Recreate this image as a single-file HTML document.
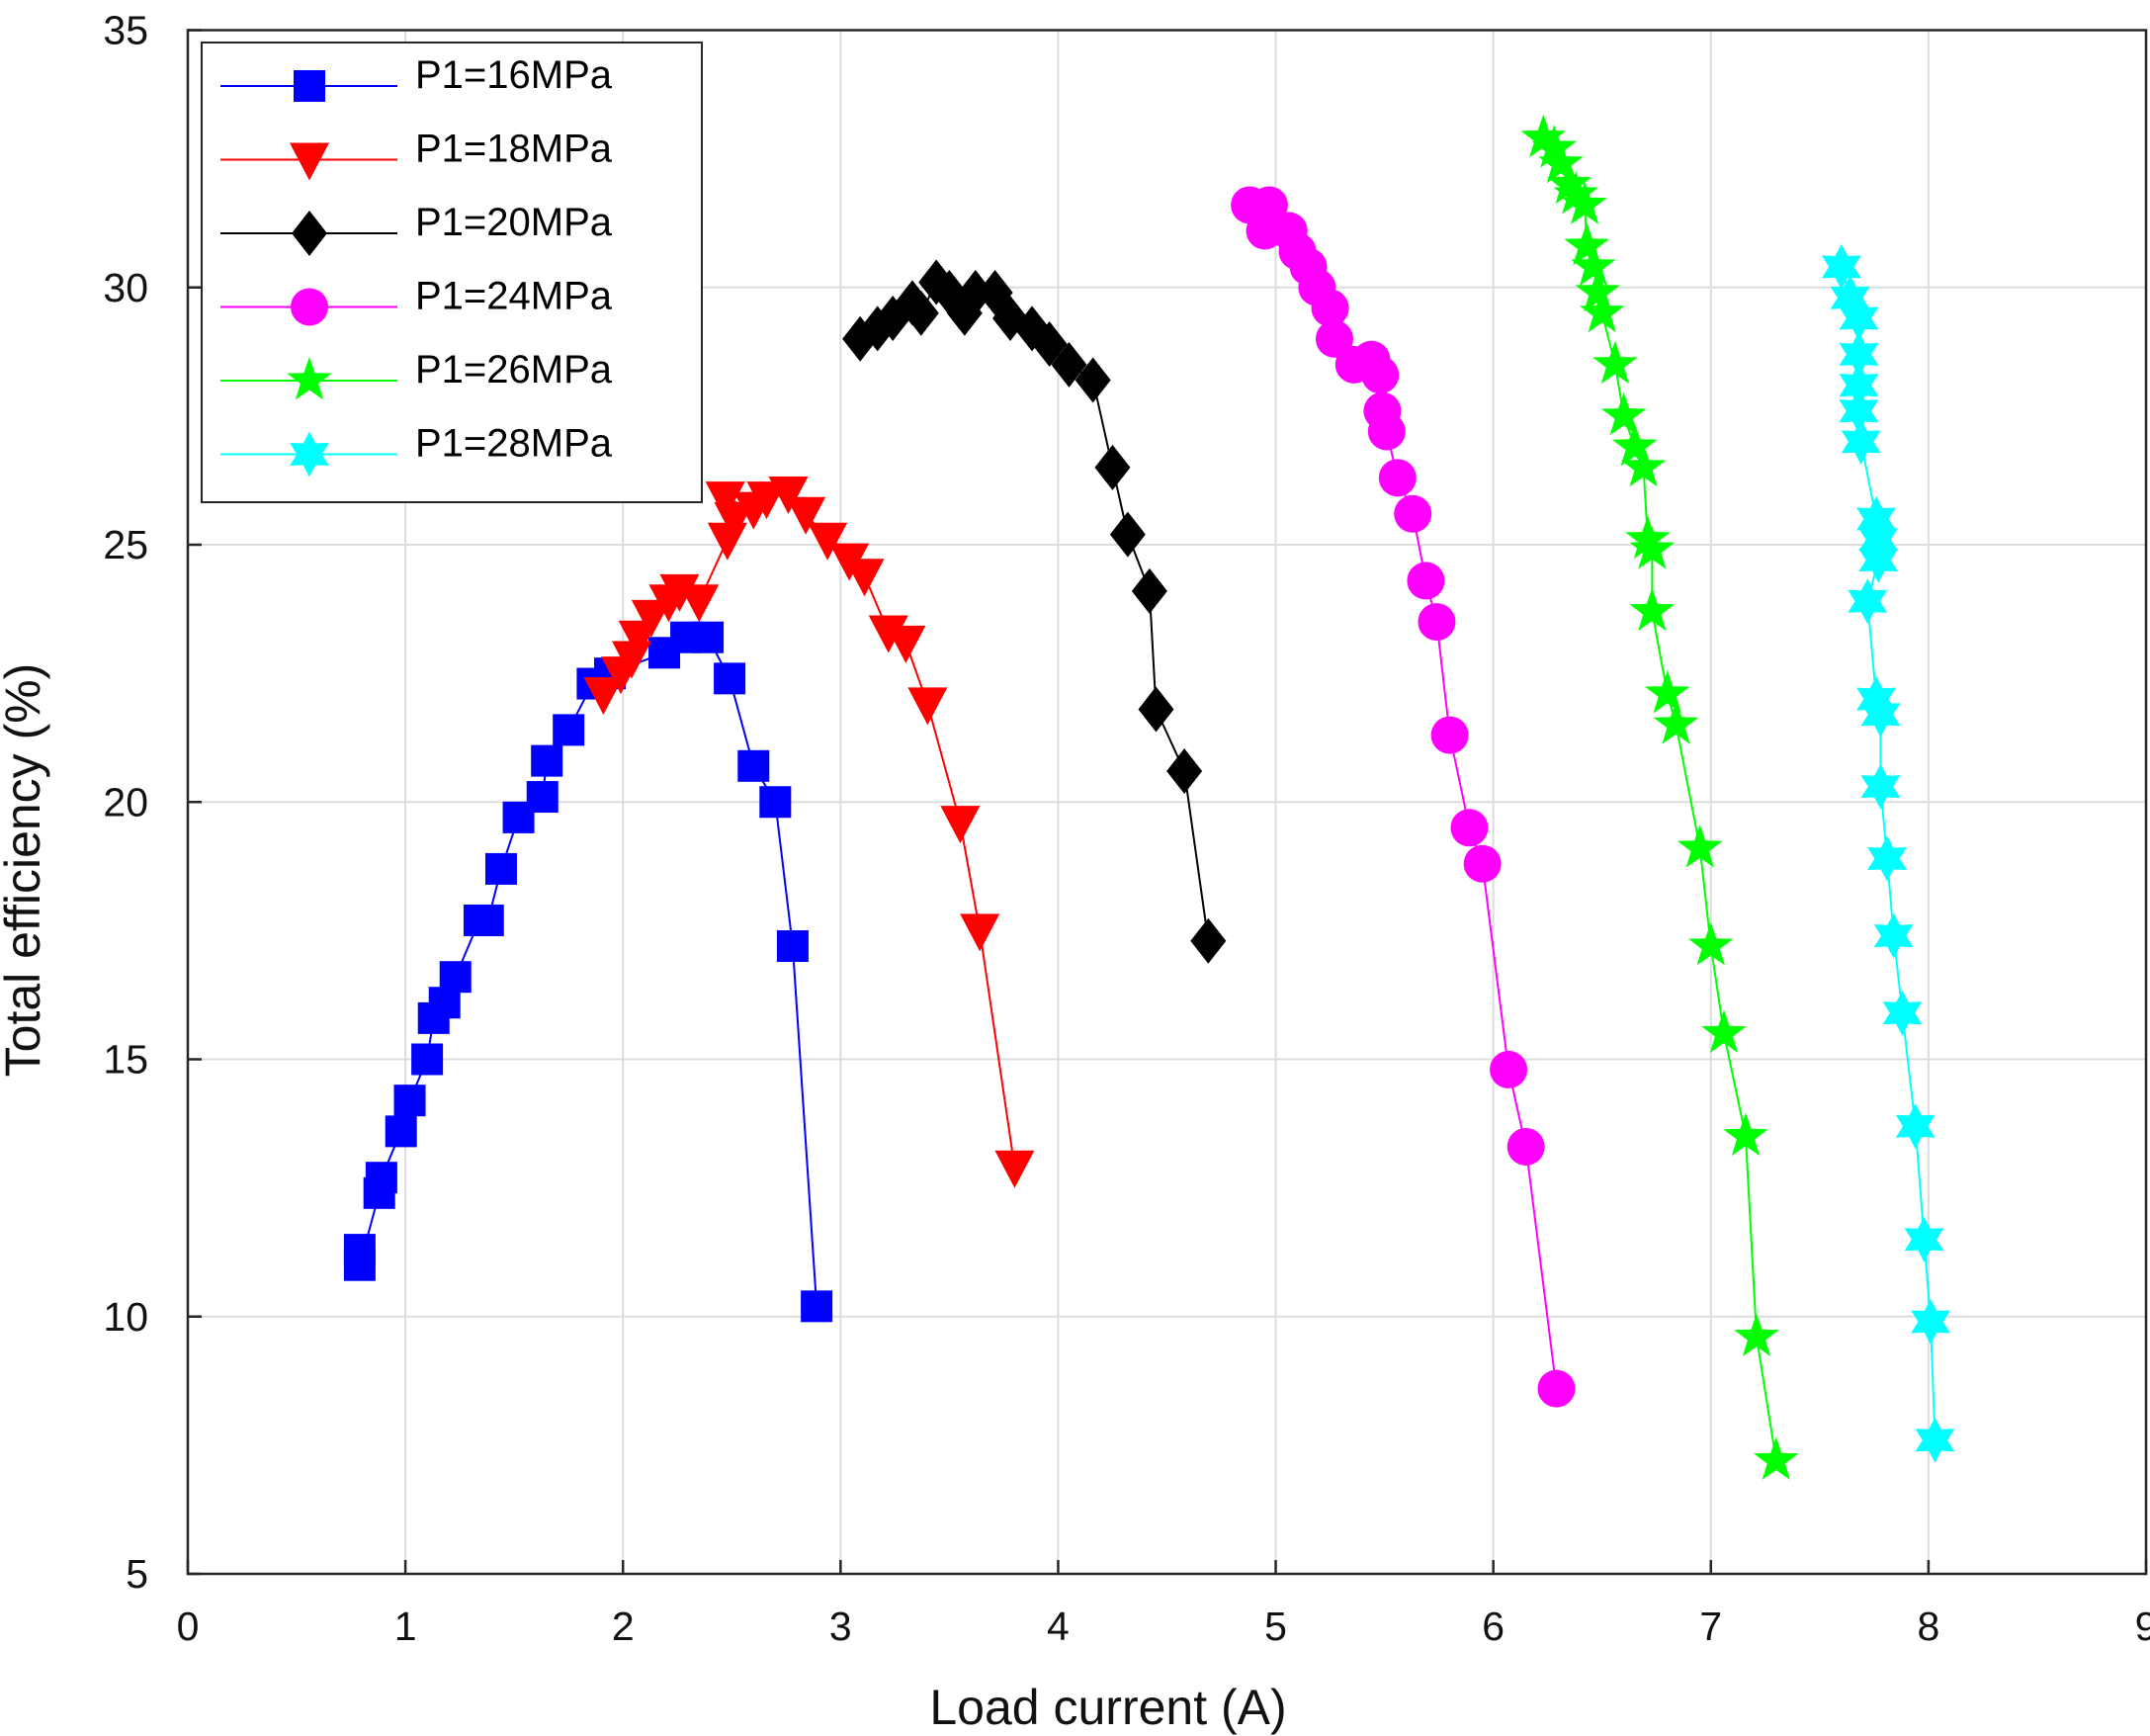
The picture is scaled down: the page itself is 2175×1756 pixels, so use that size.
<!DOCTYPE html>
<html><head><meta charset="utf-8"><style>
html,body{margin:0;padding:0;background:#fff}
svg{display:block;font-family:"Liberation Sans",Arial,sans-serif}
</style></head><body>
<svg id="chart" width="2175" height="1756" xmlns="http://www.w3.org/2000/svg"></svg>
<script>
const xTicks=[0,1,2,3,4,5,6,7,8,9];
const yTicks=[5,10,15,20,25,30,35];
const seriesNames=["P1=16MPa","P1=18MPa","P1=20MPa","P1=24MPa","P1=26MPa","P1=28MPa"];
const x16=[0.79,0.79,0.88,0.89,0.98,1.02,1.10,1.13,1.18,1.23,1.34,1.38,1.44,1.52,1.63,1.65,1.75,1.86,1.94,2.19,2.29,2.39,2.49,2.60,2.70,2.78,2.89];
const y16=[11.3,11.0,12.4,12.7,13.6,14.2,15.0,15.8,16.1,16.6,17.7,17.7,18.7,19.7,20.1,20.8,21.4,22.3,22.5,22.9,23.2,23.2,22.4,20.7,20.0,17.2,10.2];
const x18=[1.91,1.99,2.04,2.07,2.13,2.21,2.26,2.35,2.48,2.51,2.47,2.60,2.66,2.76,2.84,2.94,3.04,3.11,3.22,3.30,3.40,3.55,3.64,3.80];
const y18=[22.1,22.5,22.8,23.2,23.6,23.9,24.1,23.9,25.1,25.5,25.9,25.7,25.9,26.0,25.6,25.1,24.7,24.4,23.3,23.1,21.9,19.6,17.5,12.9];
const x20=[3.09,3.17,3.24,3.33,3.37,3.44,3.50,3.57,3.62,3.71,3.78,3.88,3.96,4.05,4.16,4.25,4.32,4.42,4.45,4.58,4.69];
const y20=[29.0,29.2,29.4,29.7,29.5,30.1,29.9,29.5,29.9,29.9,29.4,29.2,28.9,28.5,28.2,26.5,25.2,24.1,21.8,20.6,17.3];
const x24=[4.88,4.97,4.95,5.06,5.10,5.15,5.19,5.25,5.27,5.36,5.44,5.48,5.49,5.51,5.56,5.63,5.69,5.74,5.80,5.89,5.95,6.07,6.15,6.29];
const y24=[31.6,31.6,31.1,31.1,30.7,30.4,30.0,29.6,29.0,28.5,28.6,28.3,27.6,27.2,26.3,25.6,24.3,23.5,21.3,19.5,18.8,14.8,13.3,8.6];
const x26=[6.23,6.28,6.31,6.35,6.38,6.42,6.43,6.46,6.48,6.50,6.56,6.60,6.65,6.69,6.71,6.73,6.73,6.80,6.84,6.95,7.00,7.06,7.16,7.21,7.30];
const y26=[32.9,32.7,32.4,32.0,31.8,31.6,30.8,30.4,29.9,29.5,28.5,27.5,26.9,26.5,25.1,24.9,23.7,22.1,21.5,19.1,17.2,15.5,13.5,9.6,7.2];
const x28=[7.60,7.64,7.68,7.68,7.68,7.68,7.69,7.76,7.77,7.77,7.72,7.76,7.78,7.78,7.81,7.84,7.88,7.94,7.98,8.01,8.03];
const y28=[30.4,29.8,29.4,28.7,28.1,27.6,27.0,25.5,25.1,24.7,23.9,22.0,21.7,20.3,18.9,17.4,15.9,13.7,11.5,9.9,7.6];

const L=190,R=2171,T=30.5,B=1592;
const sx=v=>L+(v-0)/(9-0)*(R-L);
const sy=v=>B-(v-5)/(35-5)*(B-T);
const svg=document.getElementById('chart');
const NS="http://www.w3.org/2000/svg";
function mk(tag,attrs,parent){const e=document.createElementNS(NS,tag);for(const k in attrs)e.setAttribute(k,attrs[k]);(parent||svg).appendChild(e);return e;}

const grid=mk('g',{});


xTicks.forEach(t=>{mk('line',{x1:sx(t),x2:sx(t),y1:T,y2:B,stroke:'#dcdcdc','stroke-width':2},grid);});
yTicks.forEach(t=>{mk('line',{x1:L,x2:R,y1:sy(t),y2:sy(t),stroke:'#dcdcdc','stroke-width':2},grid);});
const frame=mk('rect',{x:L,y:T,width:R-L,height:B-T,fill:'none',stroke:'#262626','stroke-width':2.5});


xTicks.forEach(t=>{
  mk('line',{x1:sx(t),x2:sx(t),y1:B,y2:B-14,stroke:'#262626','stroke-width':2.5});
  const tx=mk('text',{x:sx(t),y:1659,'font-size':41,'text-anchor':'middle',fill:'#111'});tx.textContent=t;
  
  
});
yTicks.forEach(t=>{
  mk('line',{x1:L,x2:L+14,y1:sy(t),y2:sy(t),stroke:'#262626','stroke-width':2.5});
  const tx=mk('text',{x:150,y:sy(t)+14,'font-size':41,'text-anchor':'end',fill:'#111'});tx.textContent=t;
  
  
});
const xt=mk('text',{x:1121,y:1744,'font-size':50,'text-anchor':'middle',fill:'#111'});xt.textContent='Load current (A)';


const yt=mk('text',{x:0,y:0,'font-size':50,'text-anchor':'middle',fill:'#111',transform:'translate(40,880) rotate(-90)'});yt.textContent='Total efficiency (%)';



function star(cx,cy,r,n){const ri=n===5?r*0.4:r*0.55;let p=[];for(let i=0;i<2*n;i++){const a=-Math.PI/2+i*Math.PI/n;const rr=i%2?ri:r;p.push((cx+rr*Math.cos(a)).toFixed(1)+','+(cy+rr*Math.sin(a)).toFixed(1));}return p.join(' ');}
function marker(g,type,cx,cy,color){
  if(type==='sq')return mk('rect',{x:cx-16,y:cy-16,width:32,height:32,fill:color},g);
  if(type==='tri')return mk('polygon',{points:`${cx-20},${cy-17} ${cx+20},${cy-17} ${cx},${cy+21}`,fill:color},g);
  if(type==='dia')return mk('polygon',{points:`${cx},${cy-23} ${cx+18},${cy} ${cx},${cy+23} ${cx-18},${cy}`,fill:color},g);
  if(type==='cir')return mk('circle',{cx:cx,cy:cy,r:19,fill:color},g);
  if(type==='s5')return mk('polygon',{points:star(cx,cy,24,5),fill:color},g);
  return mk('polygon',{points:star(cx,cy,23,6),fill:color},g);
}
const series=[[x16,y16,'#0000ff','sq'],[x18,y18,'#ff0000','tri'],[x20,y20,'#000000','dia'],[x24,y24,'#ff00ff','cir'],[x26,y26,'#00ff00','s5'],[x28,y28,'#00ffff','s6']];
series.forEach((s,i)=>{
  const g=mk('g',{});
  
  
  const pts=s[0].map((v,j)=>sx(v)+','+sy(s[1][j])).join(' ');
  mk('polyline',{points:pts,fill:'none',stroke:s[2],'stroke-width':2},g);
  s[0].forEach((v,j)=>{const m=marker(g,s[3],sx(v),sy(s[1][j]),s[2]);
    
    });
});
const lg=mk('g',{});


mk('rect',{x:204,y:43,width:506,height:465,fill:'#fff',stroke:'#262626','stroke-width':2},lg);
series.forEach((s,i)=>{
  const y=87+i*74.5;
  const e=mk('g',{},lg);
  
  
  mk('line',{x1:223,x2:402,y1:y,y2:y,stroke:s[2],'stroke-width':2},e);
  marker(e,s[3],313,y,s[2]);
  const t=mk('text',{x:420,y:y+2,'font-size':40,fill:'#000'},e);t.textContent=seriesNames[i];
});
</script>
</body></html>
